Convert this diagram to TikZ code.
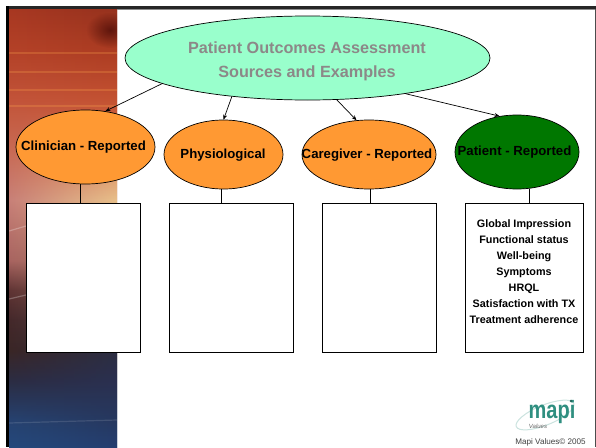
\documentclass[tikz,border=0pt]{standalone}
\usepackage{fontspec}
\setmainfont{Liberation Sans}
\usetikzlibrary{shapes.geometric,arrows.meta,fadings}
\definecolor{orangeb}{HTML}{FF9933}
\definecolor{greenb}{HTML}{007700}
\definecolor{mintb}{HTML}{99FFCC}
\definecolor{titlegray}{HTML}{8C8888}
\definecolor{logoteal}{HTML}{2F8F80}
\pgfdeclareverticalshading{panelleft}{100bp}{
 color(0bp)=(rgb,255:red,36;green,73;blue,124);
 color(25bp)=(rgb,255:red,36;green,73;blue,124);
 color(28.1bp)=(rgb,255:red,38;green,66;blue,112);
 color(32.6bp)=(rgb,255:red,44;green,44;blue,66);
 color(36bp)=(rgb,255:red,58;green,38;blue,38);
 color(39.5bp)=(rgb,255:red,68;green,40;blue,42);
 color(42.9bp)=(rgb,255:red,96;green,52;blue,52);
 color(46.3bp)=(rgb,255:red,168;green,100;blue,96);
 color(53.2bp)=(rgb,255:red,200;green,128;blue,120);
 color(58.9bp)=(rgb,255:red,200;green,106;blue,84);
 color(64.6bp)=(rgb,255:red,194;green,84;blue,58);
 color(70.3bp)=(rgb,255:red,180;green,66;blue,40);
 color(75bp)=(rgb,255:red,168;green,56;blue,34);
 color(100bp)=(rgb,255:red,168;green,56;blue,34)}
\pgfdeclareverticalshading{panelright}{100bp}{
 color(0bp)=(rgb,255:red,36;green,62;blue,112);
 color(25bp)=(rgb,255:red,36;green,62;blue,112);
 color(28.1bp)=(rgb,255:red,38;green,56;blue,95);
 color(32.6bp)=(rgb,255:red,42;green,48;blue,80);
 color(36bp)=(rgb,255:red,44;green,46;blue,66);
 color(42.9bp)=(rgb,255:red,140;green,110;blue,90);
 color(53.2bp)=(rgb,255:red,232;green,192;blue,138);
 color(58.9bp)=(rgb,255:red,216;green,124;blue,86);
 color(64.6bp)=(rgb,255:red,196;green,82;blue,50);
 color(70.3bp)=(rgb,255:red,172;green,60;blue,34);
 color(75bp)=(rgb,255:red,150;green,50;blue,30);
 color(100bp)=(rgb,255:red,150;green,50;blue,30)}
\tikzfading[name=towardright,left color=transparent!100,right color=transparent!0]
\tikzfading[name=spotfade,inner color=transparent!40,outer color=transparent!100]
\tikzset{
 oval/.style={ellipse,draw=black,line width=0.7pt,inner sep=0pt,text=black},
 ovaltext/.style={inner sep=0pt,text=black,font=\bfseries\fontsize{13.2}{15}\selectfont},
 answerbox/.style={draw=black,line width=0.8pt,fill=white,inner sep=0pt},
 link/.style={draw=black,line width=0.7pt,-{Stealth[length=5pt,width=4pt]}},
 stem/.style={draw=black,line width=0.7pt},
 stripe/.style={line width=1.2pt,draw=orange!70!white,opacity=0.25}
}
\begin{document}
\begin{tikzpicture}[x=1pt,y=-1pt]
\useasboundingbox (0,0) rectangle (596,447);
\fill[white] (0,0) rectangle (596,447);
% left panel
\begin{scope}
\clip (9,9) rectangle (117,447);
\shade[shading=panelleft] (9,9) rectangle (117,447);
\shade[shading=panelright,path fading=towardright] (9,9) rectangle (117,447);
\fill[black!80!red,path fading=spotfade] (110,30) ellipse (24 and 18);
\foreach \yy in {53,72,90,106}{\draw[stripe] (9,\yy) -- (117,\yy);}
\draw[stripe,draw=white] (9,231) -- (26,226);
\draw[stripe,draw=white] (9,299) -- (26,295);
\draw[stripe,draw=white,opacity=.12] (9,423) -- (117,420);
\end{scope}
% frame
\fill[black!85] (6,6) rectangle (596,9);
\fill[black!45] (117,9) rectangle (596,9.8);
\fill[black] (6,6) rectangle (9,447);
\fill[black!70] (595,9) rectangle (596,447);
% title ellipse
\node[ellipse,draw=black,line width=0.7pt,fill=mintb,minimum width=365pt,minimum height=84pt,inner sep=0pt] (title) at (307.5,58) {};
\node[inner sep=0pt,text=titlegray,align=center,font=\bfseries\fontsize{16.2}{24}\selectfont] (titletext) at (307,61)
  {Patient Outcomes Assessment\\Sources and Examples};
% category ovals
\node[oval,fill=orangeb,minimum width=139pt,minimum height=74pt] (clin) at (85.5,147) {};
\node[oval,fill=orangeb,minimum width=119pt,minimum height=69pt] (phys) at (223.5,154.5) {};
\node[oval,fill=orangeb,minimum width=134pt,minimum height=69pt] (care) at (369,154.5) {};
\node[oval,fill=greenb,minimum width=124pt,minimum height=74pt] (pat) at (517,152) {};
\node[ovaltext] (clint) at (83.5,147.5) {Clinician - Reported};
\node[ovaltext] (physt) at (223,155.5) {Physiological};
\node[ovaltext] (caret) at (367,155.5) {Caregiver - Reported};
\node[ovaltext] (patt) at (514.5,152.5) {Patient - Reported};
% boxes
\node[answerbox,minimum width=114pt,minimum height=149pt] (b1) at (83,277.5) {};
\node[answerbox,minimum width=124pt,minimum height=149pt] (b2) at (231,277.5) {};
\node[answerbox,minimum width=114pt,minimum height=149pt] (b3) at (379,277.5) {};
\node[answerbox,minimum width=118pt,minimum height=149pt] (b4) at (524,277.5) {};
\node[inner sep=0pt,font=\bfseries\fontsize{10.8}{15.9}\selectfont,align=center] (b4text) at (524,271.5)
 {Global Impression\\Functional status\\Well-being\\Symptoms\\HRQL\\Satisfaction with TX\\Treatment adherence};
% connectors
\draw[link] (title.190.4) -- (clin.61);
\draw[link] (title.207.5) -- (phys.90);
\draw[link] (title.305.5) -- (care.110);
\draw[link] (title.340.2) -- (pat.116);
\coordinate (s1) at (80,147);
\coordinate (s2) at (221,147);
\coordinate (s3) at (370,147);
\coordinate (s4) at (529,147);
\draw[stem] (clin.south -| s1) -- (b1.north -| s1);
\draw[stem] (phys.south -| s2) -- (b2.north -| s2);
\draw[stem] (care.south -| s3) -- (b3.north -| s3);
\draw[stem] (pat.south -| s4) -- (b4.north -| s4);
% logo
\draw[line width=1pt,draw=logoteal!25,rotate around={22:(545,415)}] (545,415) ellipse (31 and 10);
\node[inner sep=0pt,text=logoteal,font=\bfseries\fontsize{20}{20}\selectfont,xscale=1.0,yscale=1.25] (logo) at (552,412) {mapi};
\fill[logoteal!70!black] (571,401) circle (1.3);
\node[inner sep=0pt,text=black!60,font=\itshape\fontsize{6}{6}\selectfont] (logoval) at (538,426) {Values};
\node[inner sep=0pt,text=black!75,font=\fontsize{8.1}{9}\selectfont] (copy) at (550.5,442.5) {Mapi Values© 2005};
\end{tikzpicture}
\end{document}
